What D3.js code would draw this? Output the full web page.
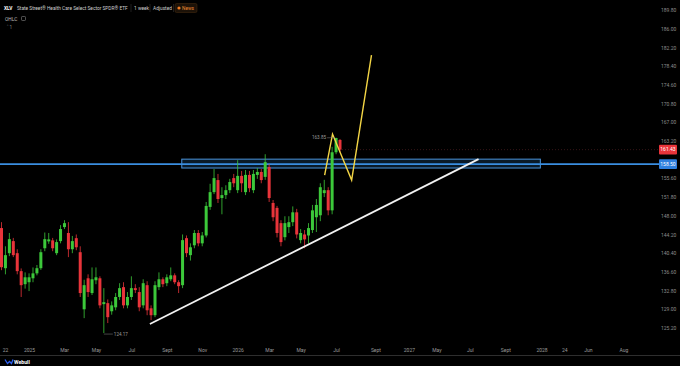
<!DOCTYPE html>
<html>
<head>
<meta charset="utf-8">
<script src="https://cdn.jsdelivr.net/npm/d3@7"></script>
<style>
  html, body { margin: 0; padding: 0; background: #000; }
  svg { display: block; font-family: Roboto, "Noto Sans", sans-serif; }
</style>
</head>
<body>
<div id="chart"></div>
<script>
// XLV weekly candles (approx)
var opens  = [145.5,137.35,140.4,142.85,140.4,136.75,134.1,134.5,135.3,136.3,137.35,141.4,142.8,143.0,140.4,142.85,145.7,144.5,141.2,143.45,
              140.6,129.0,135.3,132.3,134.9,135.3,130.05,130.25,128.6,129.4,131.5,133.5,129.8,131.5,133.3,132.5,129.8,133.9,129.2,127.8,
              133.5,135.1,134.3,135.1,135.9,134.5,133.9,143.45,140.0,142.0,144.5,142.4,144.0,149.8,152.8,155.25,151.6,152.2,153.2,155.65,
              153.2,156.1,152.8,156.3,153.2,156.3,156.9,155.9,157.9,150.6,149.6,146.5,143.65,145.7,146.7,148.7,143.05,144.2,144.0,145.1,
              147.7,148.1,152.6,153.2,149.1,160.9,163.4];
var highs  = [146.7,141.8,144.5,143.5,141.2,137.3,136.5,136.3,137.5,138.0,141.2,144.6,144.5,143.5,143.2,146.1,147.1,146.7,143.9,144.2,
              141.8,135.0,136.1,137.5,137.5,135.7,133.3,131.0,130.6,132.3,134.3,134.5,132.5,135.7,134.1,133.5,135.1,134.7,129.8,134.7,
              136.5,135.5,136.1,137.5,136.3,134.9,144.2,144.0,142.4,145.1,145.1,144.7,150.8,154.5,157.5,156.5,153.8,154.2,155.5,156.5,
              159.3,157.1,157.3,157.1,157.3,157.7,157.5,160.5,158.5,151.2,150.0,147.1,147.9,147.9,149.9,149.4,145.3,145.1,146.5,150.2,
              151.4,154.6,155.3,153.8,162.0,163.85,163.6];
var lows   = [136.95,136.1,139.8,139.6,136.1,131.5,133.2,132.7,134.5,135.9,137.0,140.8,142.3,140.8,140.0,142.4,145.3,139.6,140.4,141.0,
              131.5,127.2,131.5,131.9,134.1,129.2,124.17,126.2,127.9,128.8,130.9,129.2,129.2,130.9,132.3,128.6,129.2,127.8,126.8,127.4,
              132.9,133.5,133.7,134.7,134.1,132.3,133.3,139.6,138.9,141.4,141.8,141.8,143.6,149.2,152.4,150.6,148.3,151.4,152.6,153.8,
              152.6,152.8,152.2,152.8,152.6,155.5,154.6,155.3,150.8,146.9,143.6,141.8,143.0,144.5,145.9,143.4,142.4,141.4,142.4,144.5,
              144.7,146.9,151.8,148.1,148.3,160.5,160.9];
var closes = [137.55,140.0,143.25,140.0,136.75,133.9,135.5,135.5,136.3,137.35,140.6,143.25,143.2,141.4,142.65,145.3,146.5,141.2,142.85,141.6,
              132.3,133.9,132.5,135.1,135.5,129.8,130.45,127.4,129.8,131.5,133.3,129.8,131.5,133.3,132.9,129.4,134.3,128.8,127.8,133.9,
              135.1,134.1,135.5,135.9,134.5,133.7,143.05,140.4,141.6,144.5,142.4,144.0,150.0,152.8,155.65,151.4,152.2,153.2,154.85,154.6,
              156.1,154.6,156.3,153.6,156.5,156.9,155.25,158.9,151.6,147.7,144.5,142.65,146.5,146.7,148.7,144.2,144.5,143.2,145.5,149.1,
              150.2,153.8,153.2,149.1,160.9,163.8,161.43];

// axis labels
var xTickLabels = ["22","2025","Mar","May","Jul","Sept","Nov","2026","Mar","May","Jul","Sept","2027","May","Jul","Sept","2028","24","Jun","Aug"];
var xTickIndex  = [0.9,7.0,15.9,24.0,33.0,42.0,51.0,60.0,68.0,76.0,85.0,95.0,103.5,110.5,119.0,128.0,137.2,143.0,149.0,158.0];
var yTicks = [125.2,129.0,132.8,136.6,140.4,144.2,148.0,151.8,155.6,163.2,167.0,170.8,174.6,178.4,182.2,186.0,189.8];

// drawings on the chart
var lastPrice = 161.43;
var levelPrice = 158.50;
var zoneIdx = [45.8, 136.9];
var zonePrice = [157.7, 159.5];
var trendIdx = [37.7, 121.2];
var trendPrice = [126.0, 159.5];
var pathIdx = [82.1, 84.1, 88.96, 94.0];
var pathPrice = [156.26, 164.6, 155.25, 180.65];
var lowIdx = 26, highIdx = 85;

var width = 680, height = 366;
var green = "#3cc83a", red = "#e8343a", blue = "#3a8ee0";

var svg = d3.select("#chart")
  .append("svg")
    .attr("width", width)
    .attr("height", height);

svg.append("rect").attr("width", width).attr("height", height).attr("fill", "#000");

var x = d3.scaleLinear().domain([0, 86]).range([1.5, 340]);
var y = d3.scaleLinear().domain([125.2, 189.8]).range([328, 10]);

var data = opens.map((o, i) => ({i: i, o: o, h: highs[i], l: lows[i], c: closes[i]}));

// support zone box
svg.append("rect")
  .attr("x", x(zoneIdx[0]))
  .attr("y", y(zonePrice[1]))
  .attr("width", x(zoneIdx[1]) - x(zoneIdx[0]))
  .attr("height", y(zonePrice[0]) - y(zonePrice[1]))
  .attr("fill", "rgba(58,142,224,0.18)")
  .attr("stroke", "#4a94dc")
  .attr("stroke-width", 1);

// horizontal level
svg.append("line")
  .attr("x1", 0).attr("x2", 659)
  .attr("y1", y(levelPrice)).attr("y2", y(levelPrice))
  .attr("stroke", blue).attr("stroke-width", 1.6);

// last price line
svg.append("line")
  .attr("x1", x(86) + 2).attr("x2", 659)
  .attr("y1", y(lastPrice)).attr("y2", y(lastPrice))
  .attr("stroke", "#5a2226").attr("stroke-width", 0.6)
  .attr("stroke-dasharray", "1,2");

// candles
var candles = svg.append("g");
candles.selectAll("line.wick")
  .data(data)
  .enter().append("line")
  .attr("class", "wick")
  .attr("x1", d => x(d.i)).attr("x2", d => x(d.i))
  .attr("y1", d => y(d.h)).attr("y2", d => y(d.l))
  .attr("stroke", d => d.c >= d.o ? green : red)
  .attr("stroke-width", 0.8);

candles.selectAll("rect.body")
  .data(data)
  .enter().append("rect")
  .attr("class", "body")
  .attr("x", d => x(d.i) - 1.5)
  .attr("width", 3)
  .attr("y", d => y(Math.max(d.o, d.c)))
  .attr("height", d => Math.max(1, Math.abs(y(d.o) - y(d.c))))
  .attr("fill", d => d.c >= d.o ? green : red);

// trend line
svg.append("line")
  .attr("x1", x(trendIdx[0])).attr("y1", y(trendPrice[0]))
  .attr("x2", x(trendIdx[1])).attr("y2", y(trendPrice[1]))
  .attr("stroke", "#f2f2f2").attr("stroke-width", 1.8);

// projected path
svg.append("path")
  .datum(pathIdx.map((d, i) => [d, pathPrice[i]]))
  .attr("d", d3.line().x(d => x(d[0])).y(d => y(d[1])))
  .attr("fill", "none")
  .attr("stroke", "#f3d545")
  .attr("stroke-width", 1.4);

// high / low markers
var hi = data[highIdx], lo = data[lowIdx];
svg.append("line")
  .attr("x1", x(hi.i) - 9).attr("x2", x(hi.i) - 1)
  .attr("y1", y(hi.h)).attr("y2", y(hi.h))
  .attr("stroke", "#888").attr("stroke-width", 0.5);
svg.append("text")
  .attr("x", x(hi.i) - 10).attr("y", y(hi.h) + 1.6)
  .attr("text-anchor", "end")
  .attr("font-size", 4.6).attr("fill", "#9a9a9a")
  .text(d3.format(".2f")(hi.h));

svg.append("line")
  .attr("x1", x(lo.i)).attr("x2", x(lo.i) + 9)
  .attr("y1", y(lo.l) + 1).attr("y2", y(lo.l) + 1)
  .attr("stroke", "#888").attr("stroke-width", 0.5);
svg.append("text")
  .attr("x", x(lo.i) + 10).attr("y", y(lo.l) + 2.6)
  .attr("font-size", 4.6).attr("fill", "#9a9a9a")
  .text(d3.format(".2f")(lo.l));

// price axis
var yAxis = d3.axisRight(y)
  .tickValues(yTicks)
  .tickSize(0)
  .tickPadding(0)
  .tickFormat(d3.format(".2f"));

svg.append("g")
  .attr("transform", "translate(661,0)")
  .call(yAxis)
  .call(g => g.select(".domain").remove())
  .selectAll("text")
  .attr("fill", "#8c8c8c")
  .attr("font-size", 5)
  .attr("font-family", "Roboto, sans-serif");

// price tags
[[lastPrice, red], [levelPrice, "#2f80e0"]].forEach(p => {
  svg.append("rect")
    .attr("x", 659).attr("y", y(p[0]) - 4.8)
    .attr("width", 18).attr("height", 9.6)
    .attr("rx", 1)
    .attr("fill", p[1]);
  svg.append("text")
    .attr("x", 668).attr("y", y(p[0]) + 1.8)
    .attr("text-anchor", "middle")
    .attr("font-size", 5).attr("fill", "#fff")
    .text(d3.format(".2f")(p[0]));
});

// time axis
var xAxis = d3.axisBottom(x)
  .tickValues(xTickIndex)
  .tickSize(0)
  .tickPadding(3)
  .tickFormat((d, i) => xTickLabels[i]);

svg.append("g")
  .attr("transform", "translate(0,345)")
  .call(xAxis)
  .call(g => g.select(".domain").remove())
  .selectAll("text")
  .attr("fill", "#9a9a9a")
  .attr("font-size", 5)
  .attr("font-family", "Roboto, sans-serif");

svg.append("line")
  .attr("x1", 0).attr("x2", width)
  .attr("y1", 355.5).attr("y2", 355.5)
  .attr("stroke", "#2e2e2e").attr("stroke-width", 1);

// header
var head = svg.append("g").attr("font-size", 4.8).attr("fill", "#cfcfcf");
head.append("text").attr("x", 4).attr("y", 9.5).attr("font-weight", "bold").attr("fill", "#fff").text("XLV");
head.append("text").attr("x", 17).attr("y", 9.5).text("State Street® Health Care Select Sector SPDR® ETF");
[131, 150, 173.5].forEach(v => {
  head.append("line").attr("x1", v).attr("x2", v).attr("y1", 4).attr("y2", 12)
    .attr("stroke", "#333").attr("stroke-width", 0.6);
});
head.append("text").attr("x", 134).attr("y", 9.5).text("1 week");
head.append("text").attr("x", 153).attr("y", 9.5).text("Adjusted");
head.append("rect").attr("x", 175).attr("y", 3.5).attr("width", 22).attr("height", 9).attr("rx", 1.5)
  .attr("fill", "#1c1208").attr("stroke", "#4a2e10").attr("stroke-width", 0.5);
head.append("circle").attr("cx", 179).attr("cy", 8).attr("r", 1.6).attr("fill", "#f07a22");
head.append("text").attr("x", 182).attr("y", 9.5).attr("fill", "#f08a30").text("News");

head.append("text").attr("x", 5).attr("y", 20.5).attr("fill", "#bdbdbd").text("OHLC");
head.append("rect").attr("x", 21.5).attr("y", 16.5).attr("width", 4).attr("height", 4).attr("rx", 0.8)
  .attr("fill", "none").attr("stroke", "#888").attr("stroke-width", 0.6);
head.append("text").attr("x", 7).attr("y", 29).attr("fill", "#888").text("˄  1");

// logo
svg.append("path")
  .attr("d", "M5,359.5 L7.5,363.5 L9.5,361.5 L11.5,363.5 L13,359.5")
  .attr("fill", "none").attr("stroke", "#2d5ff0").attr("stroke-width", 1.3);
svg.append("text").attr("x", 14).attr("y", 363.5)
  .attr("font-size", 5.2).attr("font-weight", "bold").attr("fill", "#fff")
  .text("Webull");
</script>
</body>
</html>
